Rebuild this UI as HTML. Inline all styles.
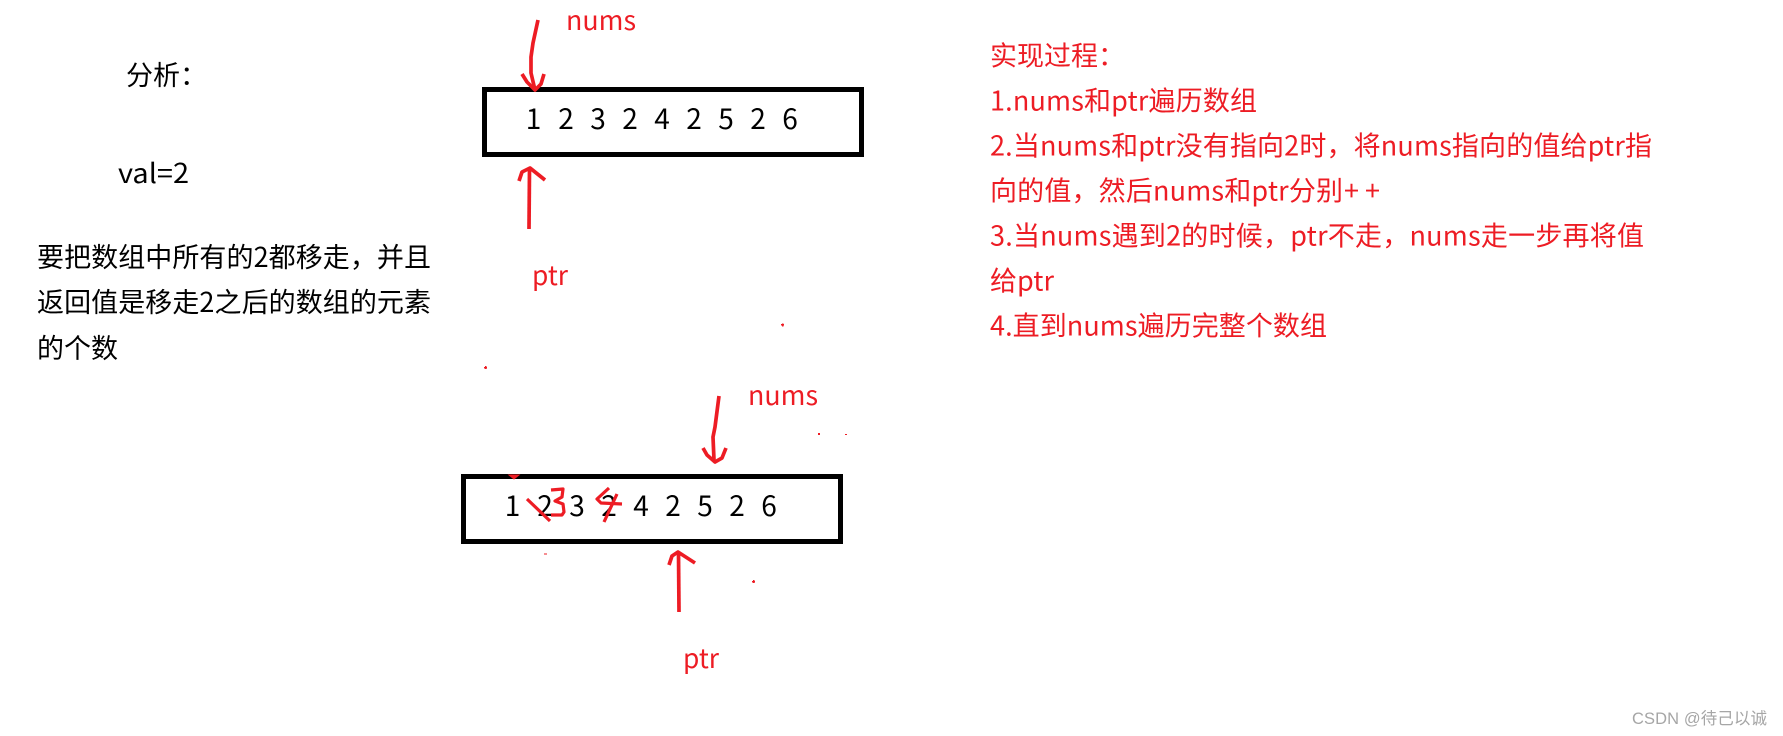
<!DOCTYPE html>
<html lang="zh">
<head>
<meta charset="utf-8">
<style>
html,body{margin:0;padding:0;background:#fff;width:1783px;height:736px;overflow:hidden}
svg{display:block}
text{font-family:"Liberation Sans","Noto Sans CJK SC",sans-serif}
.t{font-family:"Noto Sans CJK SC","Liberation Sans",sans-serif;font-size:27px}
.r{fill:#ed1c24}
.k{fill:#000}
.d{font-family:"Noto Sans CJK SC","Liberation Sans",sans-serif;font-size:28px;fill:#000;text-anchor:middle}
.a{fill:none;stroke:#ed1c24;stroke-width:3.7;stroke-linecap:butt;stroke-linejoin:round}
.m{fill:none;stroke:#ed1c24;stroke-width:3.2;stroke-linecap:butt;stroke-linejoin:round}
</style>
</head>
<body>
<svg width="1783" height="736" viewBox="0 0 1783 736" xmlns="http://www.w3.org/2000/svg">
<rect width="1783" height="736" fill="#fff"/>

<!-- left text -->
<text class="t k" x="126" y="85">分析：</text>
<text class="t k" x="118" y="183" textLength="71" lengthAdjust="spacingAndGlyphs">val=2</text>
<text class="t k" x="37" y="267" textLength="394" lengthAdjust="spacing">要把数组中所有的2都移走，并且</text>
<text class="t k" x="37" y="312" textLength="394" lengthAdjust="spacing">返回值是移走2之后的数组的元素</text>
<text class="t k" x="37" y="358">的个数</text>

<!-- top box -->
<rect x="484.500" y="89.500" width="377" height="65" fill="none" stroke="#000" stroke-width="5"/>
<g>
<text class="d" x="533.500" y="129">1</text><text class="d" x="566" y="129">2</text><text class="d" x="598" y="129">3</text><text class="d" x="630" y="129">2</text><text class="d" x="662" y="129">4</text><text class="d" x="694" y="129">2</text><text class="d" x="726" y="129">5</text><text class="d" x="758" y="129">2</text><text class="d" x="790" y="129">6</text>
</g>
<text class="t r" x="566" y="30" textLength="70" lengthAdjust="spacingAndGlyphs">nums</text>
<text class="t r" x="532" y="285" textLength="36" lengthAdjust="spacingAndGlyphs">ptr</text>
<path class="a" d="M538 20 L533 43 L531 57 L531 73 L535 90"/>
<path class="a" d="M522 74 L527 82 L535 90 L541 84 L544 74"/>
<path class="a" d="M529 229 L529.500 169"/>
<path class="a" d="M519 181 L522 172 L530 168 L545 180"/>

<!-- bottom box -->
<rect x="463.500" y="476.500" width="377" height="65" fill="none" stroke="#000" stroke-width="5"/>
<g>
<text class="d" x="512.500" y="516">1</text><text class="d" x="545" y="516">2</text><text class="d" x="577" y="516">3</text><text class="d" x="609" y="516">2</text><text class="d" x="641" y="516">4</text><text class="d" x="673" y="516">2</text><text class="d" x="705" y="516">5</text><text class="d" x="737" y="516">2</text><text class="d" x="769" y="516">6</text>
</g>
<text class="t r" x="748" y="405" textLength="70" lengthAdjust="spacingAndGlyphs">nums</text>
<text class="t r" x="683" y="668" textLength="36" lengthAdjust="spacingAndGlyphs">ptr</text>
<path class="a" d="M719 396 L715 427 L713 437 L714 460"/>
<path class="a" d="M703 448 L707 455 L715 462 L722 458 L726 448"/>
<path class="a" d="M679 612 L678.500 553"/>
<path class="a" d="M669 565 L672 556 L678 552 L695 563"/>

<!-- overwritten digits -->
<path class="m" d="M527 499 L550 521"/>
<path class="m" d="M551 490 L563 489 L562 497 L555 501 L563 504 L564 512 L562 515 L551 515"/>
<path class="m" d="M609 488 L597 499 L601 503 L622 504"/>
<path class="m" d="M617 494 L604 522"/>

<!-- specks -->
<path d="M509 475 H519 L514 479 Z" fill="#ed1c24" stroke="#ed1c24" stroke-width="1"/>
<g fill="#ed1c24">
<rect x="781" y="324" width="3" height="1.500"/><rect x="782" y="323.500" width="1.500" height="3"/>
<rect x="484" y="367" width="3" height="1.500"/><rect x="485" y="366" width="1.500" height="3"/>
<rect x="818" y="433" width="2" height="2"/>
<rect x="845" y="434" width="2" height="1"/>
<rect x="544" y="553.500" width="3" height="1"/>
<rect x="752" y="581" width="3" height="1.500"/><rect x="753" y="580" width="1.500" height="3"/>
</g>

<!-- right text -->
<text class="t r" x="990" y="65.500">实现过程：</text>
<text class="t r" x="990" y="110.500" textLength="267" lengthAdjust="spacing">1.nums和ptr遍历数组</text>
<text class="t r" x="990" y="155.500" textLength="662" lengthAdjust="spacing">2.当nums和ptr没有指向2时，将nums指向的值给ptr指</text>
<text class="t r" x="990" y="200.500" textLength="353" lengthAdjust="spacing">向的值，然后nums和ptr分别</text>
<text class="t r" x="1344" y="200.500">+</text>
<text class="t r" x="1365" y="200.500">+</text>
<text class="t r" x="990" y="245.500" textLength="654" lengthAdjust="spacing">3.当nums遇到2的时候，ptr不走，nums走一步再将值</text>
<text class="t r" x="990" y="290.500" textLength="64" lengthAdjust="spacing">给ptr</text>
<text class="t r" x="990" y="335.500" textLength="337" lengthAdjust="spacing">4.直到nums遍历完整个数组</text>

<!-- watermark -->
<text x="1632" y="724" font-size="16.500" fill="#a6a6a6" textLength="135" lengthAdjust="spacing">CSDN @待己以诚</text>
</svg>
</body>
</html>
